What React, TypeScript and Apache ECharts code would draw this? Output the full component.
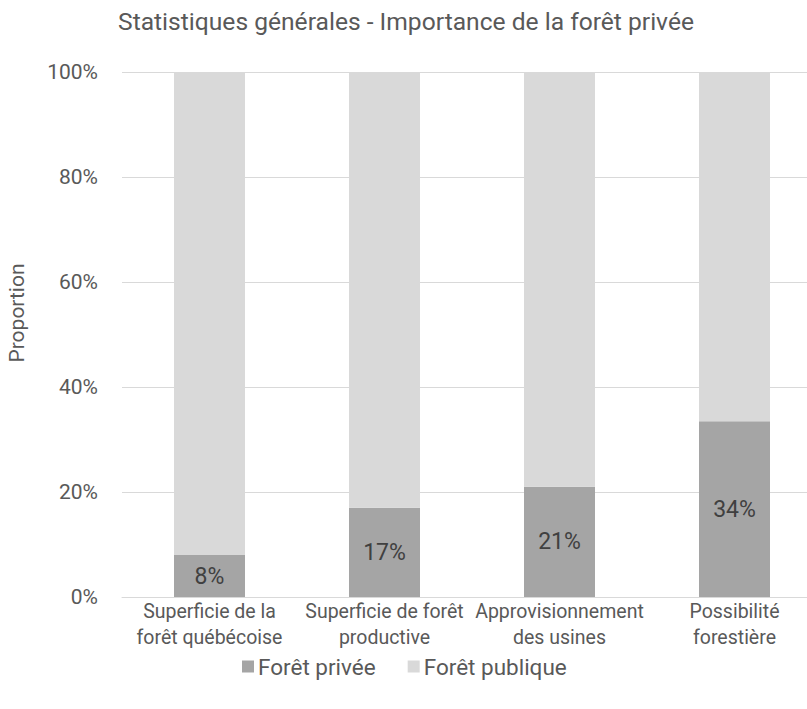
import React, { useEffect, useRef } from "react";
import * as echarts from "echarts";

const categories = [
  "Superficie de la\nforêt québécoise",
  "Superficie de forêt\nproductive",
  "Approvisionnement\ndes usines",
  "Possibilité\nforestière",
];
const privateValues = [8, 17, 21, 33.5];
const publicValues = [92, 83, 79, 66.5];
const yTicks = [0, 20, 40, 60, 80, 100];

const FONT = "'Roboto', sans-serif";
const GRAY = "#595959";

export default function App() {
  const ref = useRef<HTMLDivElement>(null);
  useEffect(() => {
    const chart = echarts.init(ref.current!, null, { renderer: "svg" });
    chart.setOption({
      animation: false,
      textStyle: { fontFamily: FONT },
      title: {
        text: "Statistiques générales - Importance de la forêt privée",
        left: 401,
        textAlign: "center",
        top: 4,
        textStyle: { fontFamily: FONT, fontSize: 24.6, fontWeight: "normal", color: GRAY },
      },
      grid: { left: 122, top: 72, width: 700, height: 525, outerBoundsMode: "none", containLabel: false },
      legend: {
        top: 650,
        left: 237,
        itemWidth: 12,
        itemHeight: 12,
        itemGap: 32,
        icon: "rect",
        textStyle: { fontFamily: FONT, fontSize: 22.5, color: GRAY, padding: [0, 0, 0, -1] },
        data: ["Forêt privée", "Forêt publique"],
      },
      xAxis: {
        type: "category",
        data: categories,
        axisLine: { lineStyle: { color: "#d9d9d9", width: 1 } },
        axisTick: { show: false },
        axisLabel: {
          interval: 0,
          fontFamily: FONT,
          fontSize: 19.5,
          color: GRAY,
          lineHeight: 26,
          margin: 1,
          hideOverlap: false,
        },
      },
      yAxis: {
        type: "value",
        min: 0,
        max: 100,
        interval: 20,
        axisLabel: {
          fontFamily: FONT,
          fontSize: 21,
          color: GRAY,
          margin: 24,
          formatter: (v: number) => (yTicks.includes(v) ? v + "%" : ""),
        },
        splitLine: { lineStyle: { color: "#d9d9d9", width: 1 } },
        axisLine: { show: false },
      },
      graphic: [
        {
          type: "text",
          x: 17,
          y: 313,
          rotation: Math.PI / 2,
          style: {
            text: "Proportion",
            fontFamily: FONT,
            fontSize: 21,
            fill: GRAY,
            align: "center",
            verticalAlign: "middle",
          },
        },
      ],
      series: [
        {
          name: "Forêt privée",
          type: "bar",
          stack: "total",
          barWidth: 71,
          data: privateValues,
          itemStyle: { color: "#a5a5a5" },
          label: {
            show: true,
            position: "inside",
            fontFamily: FONT,
            fontSize: 23,
            color: "#404040",
            formatter: (p: any) => Math.round(p.value) + "%",
          },
        },
        {
          name: "Forêt publique",
          type: "bar",
          stack: "total",
          barWidth: 71,
          data: publicValues,
          itemStyle: { color: "#d9d9d9" },
        },
      ],
    });
    return () => chart.dispose();
  }, []);
  return (
    <div
      ref={ref}
      style={{ position: "fixed", left: 0, top: 0, width: 807, height: 709, background: "#fff" }}
    />
  );
}
